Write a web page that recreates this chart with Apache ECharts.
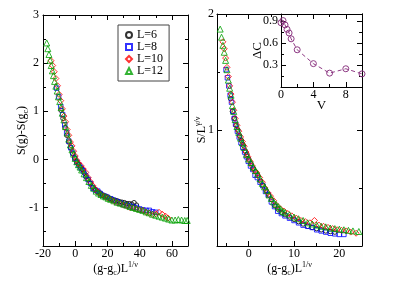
<!DOCTYPE html>
<html><head><meta charset="utf-8">
<script src="https://cdn.jsdelivr.net/npm/echarts@6/dist/echarts.min.js"></script>
<style>html,body{margin:0;padding:0;background:#fff}#c{width:399px;height:282px}</style>
</head><body><div id="c"></div>
<script>
// ---------- data ----------
const seriesNames = ['L=6', 'L=8', 'L=10', 'L=12'];
// left panel: (g-gc)L^{1/nu} vs S(g)-S(gc)
const leftL6 = [[-8.8,1.02],[-7.6,0.85],[-6.4,0.66],[-5.2,0.5],[-4,0.36],[-2.8,0.24],[-1.6,0.12],[-0.4,0.03],[0.8,-0.04],[2,-0.1],[3.2,-0.16],[4.4,-0.21],[5.6,-0.28],[6.8,-0.36],[8,-0.42],[9.5,-0.5],[11,-0.58],[12.5,-0.63],[14,-0.67],[15.5,-0.7],[17,-0.74],[18.5,-0.76],[20,-0.78],[21.5,-0.81],[23,-0.83],[24.5,-0.85],[26,-0.86],[27.5,-0.88],[29,-0.89],[30.5,-0.9],[32,-0.92],[33.5,-0.92],[35,-0.93],[36.5,-0.9],[38,-0.95]];
const leftL8 = [[-11.5,1.48],[-10.3,1.3],[-9,1.1],[-7.8,0.93],[-6.5,0.72],[-5.3,0.55],[-4,0.38],[-2.7,0.24],[-1.5,0.13],[-0.2,0.02],[1,-0.06],[2.3,-0.12],[3.6,-0.18],[5,-0.24],[6.5,-0.34],[8,-0.42],[9.5,-0.5],[11,-0.6],[12.5,-0.64],[14,-0.66],[15.5,-0.71],[17,-0.75],[18.5,-0.77],[20,-0.79],[22,-0.82],[24,-0.85],[26,-0.88],[28,-0.91],[30,-0.94],[32,-0.96],[34,-0.97],[36,-0.99],[38,-1.0],[40,-1.03],[42,-1.05],[44,-1.06],[46,-1.06],[48,-1.09],[50,-1.1]];
const leftL10 = [[-15,2.05],[-14,1.95],[-13,1.82],[-12,1.68],[-11,1.53],[-10,1.35],[-9,1.22],[-8,1.05],[-7,0.9],[-6,0.78],[-5,0.62],[-4,0.5],[-3,0.36],[-2,0.28],[-1,0.17],[0,0.07],[1,-0.02],[2,-0.08],[3.5,-0.13],[5,-0.2],[6.5,-0.27],[8,-0.38],[9.5,-0.47],[11,-0.55],[12.5,-0.62],[14,-0.68],[16,-0.74],[18,-0.77],[20,-0.8],[22,-0.84],[24,-0.87],[26,-0.9],[28,-0.92],[30,-0.95],[32,-0.97],[34,-1.0],[36,-1.01],[38,-1.03],[40,-1.05],[42,-1.06],[44,-1.1],[46,-1.12],[48,-1.14],[50,-1.13],[52,-1.1],[54,-1.14],[56,-1.18],[57.5,-1.22]];
const leftL12 = [[-17.7,2.42],[-17,2.3],[-16.3,2.18],[-15.6,2.06],[-14.9,1.95],[-14.2,1.84],[-13.5,1.74],[-12.8,1.62],[-12,1.52],[-11.2,1.42],[-10.4,1.3],[-9.6,1.2],[-8.8,1.08],[-8,0.96],[-7,0.82],[-6,0.68],[-5,0.55],[-4,0.42],[-3,0.3],[-2,0.2],[-1,0.11],[0,0.02],[1,-0.05],[2,-0.11],[3,-0.16],[4,-0.22],[5.5,-0.3],[7,-0.38],[8.5,-0.46],[10,-0.54],[11.5,-0.6],[13,-0.66],[14.5,-0.7],[16,-0.73],[17.5,-0.76],[19,-0.78],[20.5,-0.81],[22,-0.83],[24,-0.86],[26,-0.89],[28,-0.91],[30,-0.93],[32,-0.95],[34,-0.98],[36,-1.0],[38,-1.02],[40,-1.04],[42,-1.06],[44,-1.09],[46,-1.11],[48,-1.14],[50,-1.16],[52,-1.18],[54,-1.2],[56,-1.22],[58,-1.24],[60,-1.26],[62,-1.26],[64,-1.25],[66,-1.26],[68,-1.27],[69.5,-1.27]];
// right panel: (g-gc)L^{1/nu} vs S/L^{gamma/nu}
const rightL6 = [[-4,1.27],[-3.6,1.16],[-3.2,1.1],[-2.8,1.04],[-2.4,1.0],[-2,0.95],[-1.6,0.91],[-1.2,0.87],[-0.8,0.82],[-0.4,0.79],[0,0.75],[0.5,0.71],[1,0.67],[1.5,0.64],[2,0.61],[2.6,0.56],[3.2,0.52],[3.8,0.48],[4.4,0.44],[5,0.4],[5.7,0.35],[6.4,0.32],[7.2,0.29],[8,0.27],[9,0.25],[10,0.23],[11,0.21],[12,0.19],[13,0.17],[14,0.16],[15,0.15],[16,0.14],[17,0.13],[18,0.125],[19,0.12]];
const rightL8 = [[-5,1.52],[-4.7,1.45],[-4.4,1.38],[-4.1,1.3],[-3.8,1.24],[-3.5,1.16],[-3.2,1.1],[-2.9,1.05],[-2.5,0.99],[-2.1,0.94],[-1.7,0.89],[-1.3,0.85],[-0.9,0.81],[-0.5,0.77],[-0.1,0.73],[0.4,0.69],[0.9,0.66],[1.4,0.61],[1.9,0.59],[2.5,0.55],[3.1,0.52],[3.7,0.47],[4.3,0.44],[5,0.38],[5.7,0.34],[6.4,0.3],[7.2,0.28],[8,0.26],[9,0.24],[10,0.22],[11,0.2],[12,0.18],[13,0.17],[14,0.16],[15,0.14],[16,0.13],[17,0.12],[18,0.11],[19,0.105],[20,0.1],[21,0.1]];
const rightL10 = [[-5.7,1.76],[-5.4,1.7],[-5.1,1.62],[-4.8,1.54],[-4.5,1.46],[-4.2,1.38],[-3.9,1.31],[-3.6,1.24],[-3.3,1.17],[-3,1.1],[-2.6,1.04],[-2.2,0.99],[-1.8,0.94],[-1.4,0.9],[-1,0.86],[-0.6,0.81],[-0.2,0.77],[0.3,0.73],[0.8,0.69],[1.3,0.65],[1.8,0.63],[2.4,0.59],[3,0.55],[3.6,0.5],[4.2,0.46],[4.8,0.43],[5.5,0.39],[6.2,0.35],[7,0.32],[7.8,0.3],[8.6,0.28],[9.5,0.26],[10.5,0.24],[11.5,0.22],[12.5,0.21],[13.5,0.2],[14.5,0.22],[15.5,0.18],[16.5,0.17],[17.5,0.16],[18.5,0.15],[19.5,0.14],[20.5,0.135],[21.5,0.13],[22.5,0.12],[23.7,0.11]];
const rightL12 = [[-6.3,1.87],[-6,1.8],[-5.7,1.73],[-5.4,1.67],[-5.1,1.6],[-4.8,1.52],[-4.5,1.43],[-4.2,1.36],[-3.9,1.3],[-3.6,1.21],[-3.3,1.16],[-3,1.09],[-2.6,1.03],[-2.2,0.98],[-1.8,0.93],[-1.4,0.89],[-1,0.85],[-0.5,0.79],[0,0.75],[0.5,0.72],[1,0.68],[1.5,0.65],[2,0.62],[2.5,0.58],[3,0.54],[3.5,0.51],[4,0.48],[4.5,0.44],[5,0.41],[5.5,0.38],[6,0.36],[6.5,0.34],[7,0.32],[7.5,0.3],[8,0.29],[9,0.27],[10,0.25],[11,0.235],[12,0.22],[13,0.2],[14,0.19],[15,0.18],[16,0.17],[17,0.165],[18,0.155],[19,0.15],[20,0.145],[21,0.14],[22,0.135],[23,0.13],[24.3,0.125]];
// inset: V vs Delta C
const insetV  = [0, 0.25, 0.5, 0.75, 1, 1.25, 2, 4, 6, 8, 10];
const insetDC = [0.88, 0.91, 0.85, 0.79, 0.74, 0.66, 0.51, 0.32, 0.19, 0.25, 0.18];
// ticks
const leftXLabels = [-20, 0, 20, 40, 60];
const leftXMinor = [-10, 10, 30, 50, 70];
const leftYLabels = [-1, 0, 1, 2, 3];
const leftYMinor = [-1.5, -0.5, 0.5, 1.5, 2.5];
const rightXLabels = [0, 10, 20];
const rightXMinor = [-5, 5, 15, 25];
const rightYLabels = [1, 2];
const rightYMajor = [0, 1, 2];
const rightYMinor = [0.5, 1.5];
const insetXLabels = [0, 4, 8];
const insetXMinor = [2, 6, 10];
const insetYLabels = [0.3, 0.6, 0.9];
const insetYMinor = [0.15, 0.45, 0.75];

// ---------- styles ----------
const FONT = 'Liberation Serif';
const colors = ['#000000', '#0000ff', '#ff0000', '#00a000'];
const symbols = ['circle', 'rect', 'diamond', 'triangle'];
const sizes = [4.5, 4.5, 6, 6];
const purple = '#8e3a84';
const richSS = {
  s: {fontSize: 8, lineHeight: 8, verticalAlign: 'bottom', fontFamily: FONT, color: '#000'},
  p: {fontSize: 8, lineHeight: 8, verticalAlign: 'top', fontFamily: FONT, color: '#000'}
};

const xAxes = [], yAxes = [];
function addAxes(list, dim, grid, min, max, labels, majors, minors, nameCfg, z, lblMargin) {
  const pos = dim === 'x' ? ['bottom', 'top'] : ['left', 'right'];
  const first = list.length;
  pos.forEach((p, k) => {
    list.push({
      type: 'value', gridIndex: grid, position: p, min: min, max: max, z: z,
      axisLine: {show: true, onZero: false, lineStyle: {color: '#000', width: 1}},
      axisTick: {show: true, inside: true, length: 5, customValues: majors, lineStyle: {color: '#000', width: 1}},
      axisLabel: k === 0 ? {show: true, customValues: labels, color: '#000', fontFamily: FONT, fontSize: 12, margin: lblMargin} : {show: false},
      splitLine: {show: false},
      ...(k === 0 && nameCfg ? nameCfg : {})
    });
    list.push({
      type: 'value', gridIndex: grid, position: p, min: min, max: max, z: z,
      axisLine: {show: false, onZero: false},
      axisTick: {show: true, inside: true, length: 3, customValues: minors, lineStyle: {color: '#000', width: 1}},
      axisLabel: {show: false}, splitLine: {show: false}
    });
  });
  return first;
}

const nameStyle = {fontFamily: FONT, fontSize: 12, color: '#000', lineHeight: 16, rich: richSS};
const gxName = '(g-g{s|c})L{p|1/ν}';
const lx = addAxes(xAxes, 'x', 0, -20, 70, leftXLabels, leftXLabels, leftXMinor,
  {name: gxName, nameLocation: 'middle', nameGap: 15, nameMoveOverlap: false, nameTextStyle: nameStyle}, 1, 2);
const ly = addAxes(yAxes, 'y', 0, -1.8, 3, leftYLabels, leftYLabels, leftYMinor,
  {name: 'S(g)-S(g{s|c})', nameLocation: 'middle', nameGap: 13, nameMoveOverlap: false, nameRotate: 90, nameTextStyle: nameStyle}, 1, 4);
const rx = addAxes(xAxes, 'x', 1, -7, 25, rightXLabels, rightXLabels, rightXMinor,
  {name: gxName, nameLocation: 'middle', nameGap: 15, nameMoveOverlap: false, nameTextStyle: nameStyle}, 1, 2);
const ry = addAxes(yAxes, 'y', 1, 0, 2, rightYLabels, rightYMajor, rightYMinor,
  {name: 'S/L{p|γ/ν}', nameLocation: 'middle', nameGap: 7, nameMoveOverlap: false, nameRotate: 90, nameTextStyle: nameStyle}, 1, 3);
const ix = addAxes(xAxes, 'x', 2, 0, 10, insetXLabels, insetXLabels, insetXMinor,
  {name: 'V', nameLocation: 'middle', nameGap: 12, nameMoveOverlap: false, nameTextStyle: {fontFamily: FONT, fontSize: 13, color: '#000'}}, 11, 2);
const iy = addAxes(yAxes, 'y', 2, 0, 1, insetYLabels, insetYLabels, insetYMinor,
  {name: 'ΔC', nameLocation: 'middle', nameGap: 17, nameMoveOverlap: false, nameRotate: 90, nameTextStyle: {fontFamily: FONT, fontSize: 13, color: '#000'}}, 11, 3);

const leftData = [leftL6, leftL8, leftL10, leftL12];
const rightData = [rightL6, rightL8, rightL10, rightL12];
const series = [];
[[leftData, lx, ly], [rightData, rx, ry]].forEach(([sets, xi, yi]) => {
  sets.forEach((d, i) => {
    series.push({
      type: 'scatter', name: seriesNames[i], xAxisIndex: xi, yAxisIndex: yi, data: d,
      symbol: symbols[i], symbolSize: sizes[i], z: 3 + i,
      itemStyle: {color: 'rgba(0,0,0,0)', borderColor: colors[i], borderWidth: 1},
      emphasis: {disabled: true}
    });
  });
});
series.push({
  type: 'line', name: 'dc', xAxisIndex: ix, yAxisIndex: iy, z: 12,
  data: insetV.map((v, i) => [v, insetDC[i]]),
  symbol: 'circle', symbolSize: 6, showSymbol: true,
  lineStyle: {color: purple, width: 1, type: [4, 3]},
  itemStyle: {color: 'rgba(0,0,0,0)', borderColor: purple, borderWidth: 1},
  emphasis: {disabled: true}
});

const chart = echarts.init(document.getElementById('c'), null, {renderer: 'canvas'});
chart.setOption({
  animation: false,
  backgroundColor: '#fff',
  grid: [
    {left: 43, top: 15, width: 145, height: 231, containLabel: false},
    {left: 217, top: 14, width: 145, height: 232, containLabel: false},
    {left: 281, top: 14, width: 81, height: 73, containLabel: false, show: true, backgroundColor: '#fff', borderWidth: 0, z: 10}
  ],
  xAxis: xAxes,
  yAxis: yAxes,
  legend: {
    data: seriesNames, orient: 'vertical', left: 118, top: 25,
    itemWidth: 6, itemHeight: 6, itemGap: 0,
    padding: [4, 6, 4, 7], borderColor: '#444', borderWidth: 1, backgroundColor: '#fff',
    textStyle: {fontFamily: FONT, fontSize: 12, color: '#000', lineHeight: 10.5},
    selectedMode: false
  },
  series: series
});
</script></body></html>
